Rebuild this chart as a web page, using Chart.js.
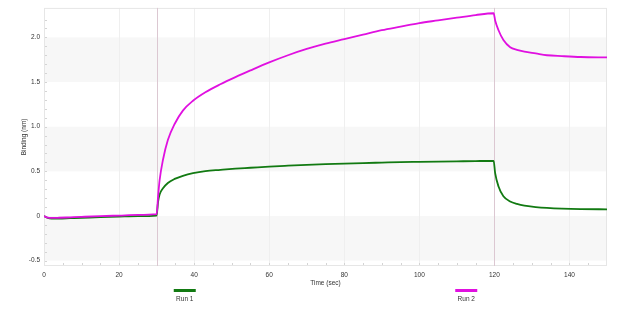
<!DOCTYPE html>
<html>
<head>
<meta charset="utf-8">
<script src="https://cdn.jsdelivr.net/npm/chart.js@4"></script>
<style>
    html, body { margin: 0; padding: 0; background: #fff; }
    #wrap { width: 640px; height: 312px; }
</style>
</head>
<body>
<div id="wrap"><canvas id="bindingChart" width="640" height="312"></canvas></div>
<script>
// Sensorgram data (time in sec, binding in nm)
const times = [0, 1, 2, 4, 7, 10, 15, 20, 25, 30,
    30.4, 30.8, 31.7, 33, 34.8, 37, 39.7, 43, 47, 51,
    55, 60, 65, 70, 75, 80, 85, 90, 95, 100,
    105, 110, 115, 119.8, 120.2, 121.1, 122.4, 124.2, 126, 128,
    131, 134, 138, 143, 150];

const run1 = [0, -0.022, -0.028, -0.028, -0.024, -0.02, -0.013, -0.007, -0.002, 0.005,
    0.16, 0.24, 0.31, 0.37, 0.415, 0.45, 0.48, 0.503, 0.517, 0.53,
    0.54, 0.553, 0.563, 0.572, 0.58, 0.587, 0.593, 0.598, 0.603, 0.606,
    0.609, 0.612, 0.615, 0.617, 0.48, 0.33, 0.22, 0.163, 0.135, 0.115,
    0.1, 0.09, 0.082, 0.077, 0.075];

const run2 = [0, -0.018, -0.022, -0.02, -0.015, -0.01, -0.002, 0.005, 0.012, 0.02,
    0.22, 0.4, 0.63, 0.85, 1.03, 1.18, 1.29, 1.385, 1.475, 1.555,
    1.63, 1.72, 1.8, 1.87, 1.93, 1.98, 2.03, 2.08, 2.12, 2.16,
    2.19, 2.22, 2.25, 2.27, 2.19, 2.08, 1.97, 1.89, 1.86, 1.84,
    1.82, 1.8, 1.79, 1.78, 1.775];

const xTicks = [0, 20, 40, 60, 80, 100, 120, 140];
const yTicks = [-0.5, 0, 0.5, 1.0, 1.5, 2.0];
const stepTimes = [30, 120];
const runNames = ['Run 1', 'Run 2'];
const runColors = ['#127a12', '#e010e0'];

const FONT = 'Liberation Sans, Arial, sans-serif';

function toPoints(values) {
    return times.map((t, i) => ({ x: t, y: values[i] }));
}

// Alternating bands, grid lines, step markers and minor ticks
const backdropPlugin = {
    id: 'backdrop',
    beforeDatasetsDraw(chart) {
        const { ctx, chartArea: a, scales: { x, y } } = chart;
        ctx.save();
        for (let i = 0; i < yTicks.length; i++) {
            if (i % 2 !== 0) continue;
            const top = i + 1 < yTicks.length ? y.getPixelForValue(yTicks[i + 1]) : a.top;
            const bottom = y.getPixelForValue(yTicks[i]);
            ctx.fillStyle = '#f7f7f7';
            ctx.fillRect(a.left, top, a.right - a.left, bottom - top);
        }

        ctx.lineWidth = 1;
        ctx.strokeStyle = '#efefef';
        xTicks.forEach(t => {
            if (t === 0) return;
            const px = Math.round(x.getPixelForValue(t)) + 0.5;
            ctx.beginPath();
            ctx.moveTo(px, a.top);
            ctx.lineTo(px, a.bottom);
            ctx.stroke();
        });

        // minor ticks
        ctx.strokeStyle = '#d4d4d4';
        for (let t = 5; t < 150; t += 5) {
            const px = Math.round(x.getPixelForValue(t)) + 0.5;
            ctx.beginPath();
            ctx.moveTo(px, a.bottom - 3);
            ctx.lineTo(px, a.bottom);
            ctx.stroke();
        }
        for (let v = -0.5; v <= 2.3; v += 0.1) {
            const py = Math.round(y.getPixelForValue(v)) + 0.5;
            ctx.beginPath();
            ctx.moveTo(a.left, py);
            ctx.lineTo(a.left + 3, py);
            ctx.stroke();
        }

        ctx.strokeStyle = '#e6e6e6';
        ctx.strokeRect(a.left + 0.5, a.top + 0.5, a.right - a.left - 1, a.bottom - a.top - 1);

        ctx.strokeStyle = '#dcc8d2';
        stepTimes.forEach(t => {
            const px = Math.round(x.getPixelForValue(t)) + 0.5;
            ctx.beginPath();
            ctx.moveTo(px, a.top);
            ctx.lineTo(px, a.bottom);
            ctx.stroke();
        });
        ctx.restore();
    }
};

// Legend under the axis, one entry at each quarter of the plot
const legendPlugin = {
    id: 'runLegend',
    afterDraw(chart) {
        const { ctx, chartArea: a } = chart;
        const w = a.right - a.left;
        ctx.save();
        chart.data.datasets.forEach((ds, i) => {
            const cx = a.left + w * (0.25 + 0.5 * i);
            ctx.fillStyle = ds.borderColor;
            ctx.fillRect(cx - 11, 289, 22, 3);
            ctx.fillStyle = '#333';
            ctx.font = '6.5px ' + FONT;
            ctx.textAlign = 'center';
            ctx.textBaseline = 'middle';
            ctx.fillText(ds.label, cx, 299);
        });
        ctx.restore();
    }
};

function initBindingChart() {
    const ctx = document.getElementById('bindingChart');

    new Chart(ctx, {
        type: 'line',
        data: {
            datasets: [
                {
                    label: runNames[0],
                    data: toPoints(run1),
                    borderColor: runColors[0],
                    borderWidth: 1.8,
                    pointRadius: 0,
                    cubicInterpolationMode: 'monotone',
                    order: 1
                },
                {
                    label: runNames[1],
                    data: toPoints(run2),
                    borderColor: runColors[1],
                    borderWidth: 1.8,
                    pointRadius: 0,
                    cubicInterpolationMode: 'monotone',
                    order: 0
                }
            ]
        },
        options: {
            responsive: false,
            animation: false,
            layout: { padding: { top: 7, right: 33, bottom: 0, left: 0 } },
            plugins: {
                legend: { display: false },
                tooltip: { enabled: false }
            },
            scales: {
                x: {
                    type: 'linear',
                    min: 0,
                    max: 150,
                    afterFit: s => { s.height = 46; },
                    afterBuildTicks: s => { s.ticks = xTicks.map(v => ({ value: v })); },
                    grid: { display: false, drawTicks: false },
                    border: { display: false },
                    ticks: {
                        padding: 5,
                        color: '#333',
                        font: { family: FONT, size: 6.5 }
                    },
                    title: {
                        display: true,
                        text: 'Time (sec)',
                        color: '#333',
                        font: { family: FONT, size: 6.5 },
                        padding: { top: 0, bottom: 25 }
                    }
                },
                y: {
                    min: -0.56,
                    max: 2.33,
                    afterFit: s => { s.width = 44; },
                    afterBuildTicks: s => { s.ticks = yTicks.map(v => ({ value: v })); },
                    grid: { display: false, drawTicks: false },
                    border: { display: false },
                    ticks: {
                        padding: 4,
                        color: '#333',
                        font: { family: FONT, size: 6.5 },
                        callback: v => v === 0 ? '0' : v.toFixed(1)
                    },
                    title: {
                        display: true,
                        text: 'Binding (nm)',
                        color: '#333',
                        font: { family: FONT, size: 6.5 },
                        padding: { top: 20, bottom: 0 }
                    }
                }
            }
        },
        plugins: [backdropPlugin, legendPlugin]
    });
}

document.addEventListener('DOMContentLoaded', initBindingChart);
</script>
</body>
</html>
